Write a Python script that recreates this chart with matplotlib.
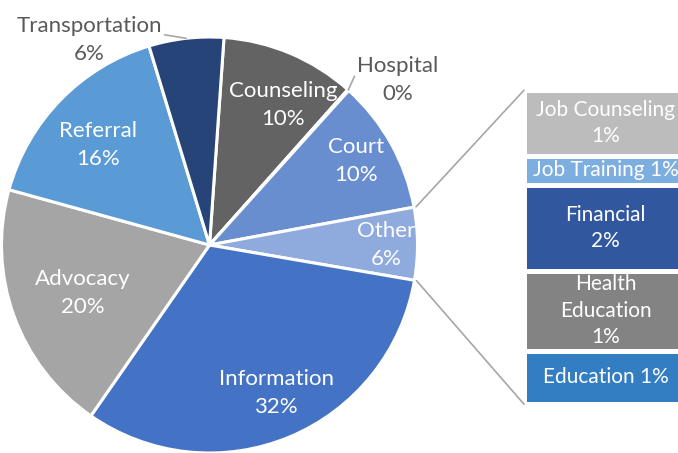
import matplotlib.pyplot as plt
from matplotlib.patches import ConnectionPatch
import numpy as np

plt.rcParams['font.family'] = ['Lato', 'DejaVu Sans']

# main pie, clockwise starting from Counseling
pie_labels = ['Counseling', 'Hospital', 'Court', 'Other', 'Information', 'Advocacy', 'Referral', 'Transportation']
pie_colors = ['#636363', '#997300', '#698ED0', '#8FAADC', '#4472C4', '#A5A5A5', '#5B9BD5', '#264478']

# breakdown of "Other" (top to bottom in the bar)
other_labels = ['Job Counseling', 'Job Training', 'Financial', 'Health\nEducation', 'Education']
other_values = [1.17, 0.53, 1.53, 1.43, 0.96]
other_colors = ['#BCBCBC', '#7DAEE0', '#31589E', '#838383', '#337DC2']
other_sep = ['\n', ' ', '\n', '\n', ' ']

pie_values = [10.45, 0.1, 10.4, sum(other_values), 31.9, 19.6, 16.0, 5.8]
total = sum(pie_values)

# label spot inside each wedge: (fraction of radius, angle shift from the wedge middle)
label_pos = [(0.76, -5.0), None, (0.81, 0.5), (0.85, -0.5), (0.78, 1.5), (0.65, 1.0), (0.72, 2.5), None]

fig = plt.figure(figsize=(6.78, 4.53), dpi=100)

ax = fig.add_axes([1.5 / 678, 0, 416 / 678, 416 / 453])
wedges, _ = ax.pie(pie_values, colors=pie_colors, startangle=86, counterclock=False,
                   wedgeprops=dict(edgecolor='white', linewidth=2.2))
ax.set_xlim(-1, 1)
ax.set_ylim(-1, 1)

for w, name, v, lp in zip(wedges, pie_labels, pie_values, label_pos):
    if lp is None:
        continue
    r, dth = lp
    mid = np.deg2rad((w.theta1 + w.theta2) / 2 + dth)
    ax.text(r * np.cos(mid), r * np.sin(mid), f'{name}\n{v / total * 100:.0f}%', color='white',
            fontsize=16, ha='center', va='center', linespacing=1.5)

# labels outside the pie with leader lines
outside = {'Transportation': ((-0.579, 0.985), (1, 0.62)), 'Hospital': ((0.906, 0.795), (0, 0.7))}
for w, name, v in zip(wedges, pie_labels, pie_values):
    if name in outside:
        pos, rel = outside[name]
        mid = np.deg2rad((w.theta1 + w.theta2) / 2)
        ax.annotate(f'{name}\n{v / total * 100:.0f}%', xy=(np.cos(mid), np.sin(mid)), xytext=pos,
                    ha='center', va='center', color='#595959', fontsize=16, linespacing=1.5,
                    annotation_clip=False,
                    arrowprops=dict(arrowstyle='-', color='#A6A6A6', lw=1.2, shrinkA=0, shrinkB=0,
                                    relpos=rel))

# stacked bar for "Other"
ax2 = fig.add_axes([524 / 678, (453 - 404.2) / 453, 174 / 678, 314 / 453])
bottom = 0
for name, v, c, sep in zip(other_labels, other_values, other_colors, other_sep):
    ax2.bar(0.5, v, width=1, bottom=bottom, color=c, edgecolor='white', linewidth=3.6, clip_on=False)
    ax2.text(0.47, bottom + v / 2, f'{name}{sep}{v / total * 100:.0f}%', color='white', fontsize=15,
             ha='center', va='center', linespacing=1.42)
    bottom += v
ax2.set_xlim(0, 1)
ax2.set_ylim(bottom, 0)
ax2.axis('off')

# connector lines from the "Other" wedge to the bar
other_w = wedges[pie_labels.index('Other')]
for ang, yb in [(other_w.theta2, 0), (other_w.theta1, bottom)]:
    a = np.deg2rad(ang)
    con = ConnectionPatch(xyA=(1.01 * np.cos(a), 1.01 * np.sin(a)), coordsA=ax.transData,
                          xyB=(0, yb), coordsB=ax2.transData, color='#A6A6A6', lw=1.2)
    fig.add_artist(con)

fig.savefig('out.png', dpi=100)
